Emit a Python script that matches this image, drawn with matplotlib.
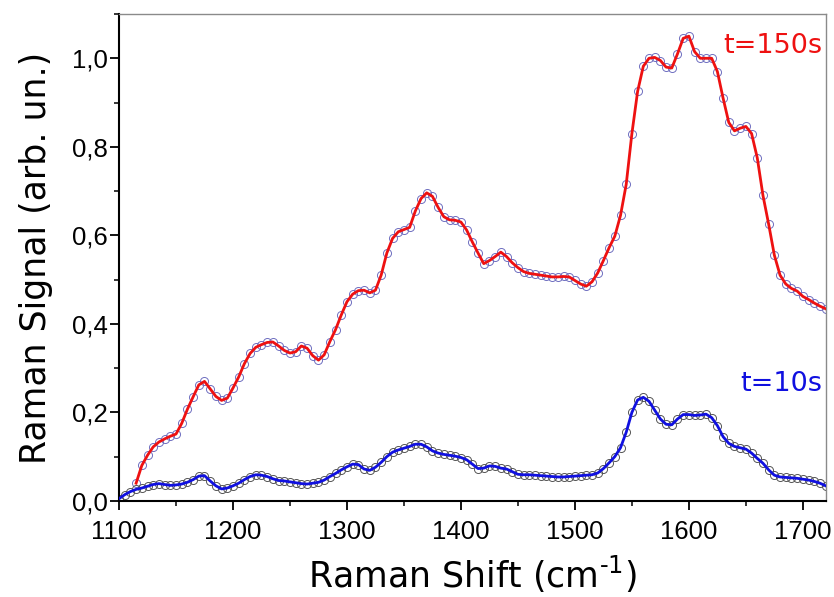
import numpy as np
import matplotlib
matplotlib.use("Agg")
import matplotlib.pyplot as plt
from matplotlib.ticker import MultipleLocator, FuncFormatter

# ---- data ----
shift_150 = list(range(1115, 1721, 5))
signal_150 = [
    0.040, 0.080, 0.103, 0.122, 0.133, 0.140, 0.146, 0.151, 0.175, 0.207,
    0.235, 0.262, 0.270, 0.253, 0.236, 0.227, 0.232, 0.255, 0.280, 0.310,
    0.333, 0.347, 0.353, 0.358, 0.359, 0.350, 0.340, 0.334, 0.337, 0.350,
    0.345, 0.328, 0.318, 0.330, 0.360, 0.387, 0.420, 0.450, 0.467, 0.475,
    0.476, 0.470, 0.476, 0.510, 0.560, 0.593, 0.608, 0.613, 0.618, 0.655,
    0.683, 0.696, 0.688, 0.663, 0.642, 0.635, 0.634, 0.630, 0.612, 0.585,
    0.560, 0.536, 0.543, 0.552, 0.562, 0.552, 0.538, 0.527, 0.518, 0.514,
    0.512, 0.510, 0.508, 0.506, 0.506, 0.507, 0.506, 0.498, 0.490, 0.485,
    0.495, 0.515, 0.543, 0.572, 0.598, 0.645, 0.715, 0.830, 0.925, 0.982,
    1.000, 1.002, 0.995, 0.980, 0.978, 1.010, 1.045, 1.050, 1.015, 1.000,
    1.000, 1.000, 0.970, 0.910, 0.855, 0.836, 0.842, 0.846, 0.830, 0.775,
    0.690, 0.625, 0.555, 0.510, 0.490, 0.480, 0.474, 0.462, 0.455, 0.447,
    0.440, 0.434,
]

shift_10 = list(range(1100, 1721, 5))
signal_10 = [
    0.005, 0.014, 0.021, 0.026, 0.029, 0.033, 0.037, 0.039, 0.037, 0.035,
    0.036, 0.038, 0.042, 0.048, 0.056, 0.057, 0.045, 0.034, 0.027, 0.029,
    0.034, 0.040, 0.048, 0.055, 0.059, 0.058, 0.055, 0.050, 0.046, 0.045,
    0.043, 0.041, 0.039, 0.038, 0.040, 0.042, 0.047, 0.055, 0.062, 0.070,
    0.077, 0.083, 0.082, 0.072, 0.069, 0.076, 0.087, 0.100, 0.110, 0.115,
    0.119, 0.123, 0.128, 0.128, 0.122, 0.113, 0.108, 0.105, 0.103, 0.101,
    0.098, 0.093, 0.083, 0.073, 0.074, 0.079, 0.078, 0.074, 0.072, 0.066,
    0.060, 0.059, 0.059, 0.058, 0.057, 0.056, 0.055, 0.054, 0.054, 0.055,
    0.056, 0.057, 0.058, 0.059, 0.063, 0.073, 0.086, 0.100, 0.120, 0.155,
    0.200, 0.228, 0.234, 0.225, 0.205, 0.185, 0.173, 0.172, 0.185, 0.195,
    0.195, 0.193, 0.194, 0.196, 0.188, 0.170, 0.145, 0.130, 0.123, 0.120,
    0.117, 0.108, 0.096, 0.085, 0.070, 0.058, 0.054, 0.053, 0.052, 0.051,
    0.049, 0.047, 0.044, 0.040, 0.034,
]

x_ticks = [1100, 1200, 1300, 1400, 1500, 1600, 1700]
y_ticks = [0.0, 0.2, 0.4, 0.6, 0.8, 1.0]

# ---- figure ----
fig = plt.figure(figsize=(8.34, 5.97), dpi=100)
ax = fig.add_axes([0.1427, 0.161, 0.8473, 0.8155])

ax.plot(shift_150, signal_150, linestyle="none", marker="o", markersize=5.8,
        markerfacecolor="none", markeredgecolor="#6f6fc0", markeredgewidth=0.7, zorder=2)
ax.plot(shift_150, signal_150, color="#ee1111", lw=2.0, zorder=3)

ax.plot(shift_10, signal_10, linestyle="none", marker="o", markersize=5.8,
        markerfacecolor="none", markeredgecolor="#555555", markeredgewidth=0.7, zorder=2)
ax.plot(shift_10, signal_10, color="#1010e0", lw=2.0, zorder=3)

ax.set_xlim(1100, 1720)
ax.set_ylim(0, 1.10)
ax.set_xticks(x_ticks)
ax.set_yticks(y_ticks)
ax.xaxis.set_minor_locator(MultipleLocator(50))
ax.yaxis.set_minor_locator(MultipleLocator(0.1))
ax.yaxis.set_major_formatter(FuncFormatter(lambda v, p: f"{v:.1f}".replace(".", ",")))

for side in ("top", "right"):
    ax.spines[side].set_color("#8a8a8a")
    ax.spines[side].set_linewidth(1.0)
for side in ("left", "bottom"):
    ax.spines[side].set_color("black")
    ax.spines[side].set_linewidth(1.5)

ax.tick_params(which="major", direction="out", length=6.5, width=1.3, labelsize=18.5)
ax.tick_params(axis="x", which="major", pad=7)
ax.tick_params(axis="y", which="major", pad=1.5)
ax.tick_params(which="minor", direction="out", length=3.5, width=1.1)
for lab in ax.get_xticklabels() + ax.get_yticklabels():
    lab.set_family("Liberation Sans")

ax.set_xlabel("Raman Shift (cm$^{\\mathregular{\u20101}}$)", fontsize=25, family="DejaVu Sans", labelpad=7)
ax.set_ylabel("Raman Signal (arb. un.)", fontsize=25, family="DejaVu Sans", labelpad=14)

ax.text(1717, 1.027, "t=150s", color="#ee1111", fontsize=19.5, ha="right", va="center",
        family="DejaVu Sans")
ax.text(1717, 0.265, "t=10s", color="#1010e0", fontsize=19.5, ha="right", va="center",
        family="DejaVu Sans")

fig.savefig("out.png", dpi=100)
